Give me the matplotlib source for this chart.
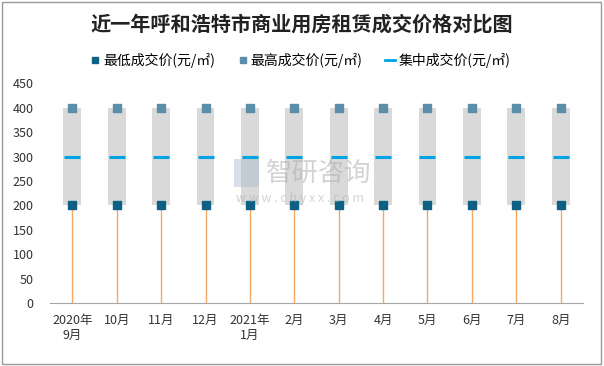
import matplotlib.pyplot as plt
import numpy as np
from matplotlib.lines import Line2D
from matplotlib.patches import Rectangle

plt.rcParams['font.family'] = ['Noto Sans CJK SC', 'DejaVu Sans']

months = ['2020年\n9月', '10月', '11月', '12月', '2021年\n1月', '2月', '3月',
          '4月', '5月', '6月', '7月', '8月']
low = [200, 200, 200, 200, 200, 200, 200, 200, 200, 200, 200, 200]
high = [400, 400, 400, 400, 400, 400, 400, 400, 400, 400, 400, 400]
mid = [300, 300, 300, 300, 300, 300, 300, 300, 300, 300, 300, 300]

c_low = '#0f6184'
c_high = '#5b8ea8'
c_mid = '#00a4e4'
c_stem = '#f0a864'
c_box = '#d9d9d9'

fig = plt.figure(figsize=(6.04, 3.66), dpi=100)
ax = fig.add_axes([0.083, 0.172, 0.882, 0.6])

x = np.arange(len(months))
w = 0.4
for i in x:
    ax.plot([i, i], [0, low[i]], color=c_stem, lw=1, zorder=1)
    ax.add_patch(Rectangle((i - w / 2, low[i]), w, high[i] - low[i],
                           facecolor=c_box, edgecolor='none', zorder=2))
    ax.plot([i - w / 2 + 0.02, i + w / 2 - 0.02], [mid[i], mid[i]],
            color=c_mid, lw=2.2, solid_capstyle='butt', zorder=3)
ax.scatter(x, low, marker='s', s=40, color=c_low, zorder=4)
ax.scatter(x, high, marker='s', s=40, color=c_high, zorder=4)

ax.set_xlim(-0.5, len(months) - 0.5)
ax.set_ylim(0, 450)
ax.set_yticks(range(0, 451, 50))
ax.set_xticks(x)
ax.set_xticklabels(months, fontsize=9, color='#333333')
ax.tick_params(axis='y', labelsize=9, labelcolor='#333333', length=0, pad=12)
ax.tick_params(axis='x', length=0, pad=8)
for s in ['top', 'right', 'left']:
    ax.spines[s].set_visible(False)
ax.spines['bottom'].set_color('#a6a6a6')

fig.text(0.5, 0.934, '近一年呼和浩特市商业用房租赁成交价格对比图', ha='center', va='center',
         fontsize=14.5, fontweight='bold', color='#222222')

handles = [
    Line2D([], [], marker='s', color=c_low, linestyle='none', markersize=5),
    Line2D([], [], marker='s', color=c_high, linestyle='none', markersize=5),
    Line2D([], [], color=c_mid, lw=2),
]
labels = ['最低成交价(元/㎡)', '最高成交价(元/㎡)', '集中成交价(元/㎡)']
fig.legend(handles, labels, loc='center', bbox_to_anchor=(0.497, 0.835), ncol=3,
           frameon=False, fontsize=10, handlelength=0.7, handletextpad=0.25,
           columnspacing=1.6)

# watermark
fig.text(0.44, 0.525, '智研咨询', ha='left', va='center', fontsize=19,
         color='#b0b0b0', alpha=0.55, zorder=10)
fig.text(0.39, 0.458, 'w w w . c h y x x . c o m', ha='left', va='center',
         fontsize=9, color='#b0b0b0', alpha=0.55, zorder=10)
fig.patches.append(Rectangle((0.388, 0.49), 0.04, 0.075, transform=fig.transFigure,
                             facecolor='#a8b8d0', edgecolor='none', alpha=0.45,
                             zorder=10))

fig.patches.append(Rectangle((0.003, 0.005), 0.992, 0.99, transform=fig.transFigure,
                             fill=False, edgecolor='#999999', lw=1))

fig.savefig('out.png', dpi=100)
